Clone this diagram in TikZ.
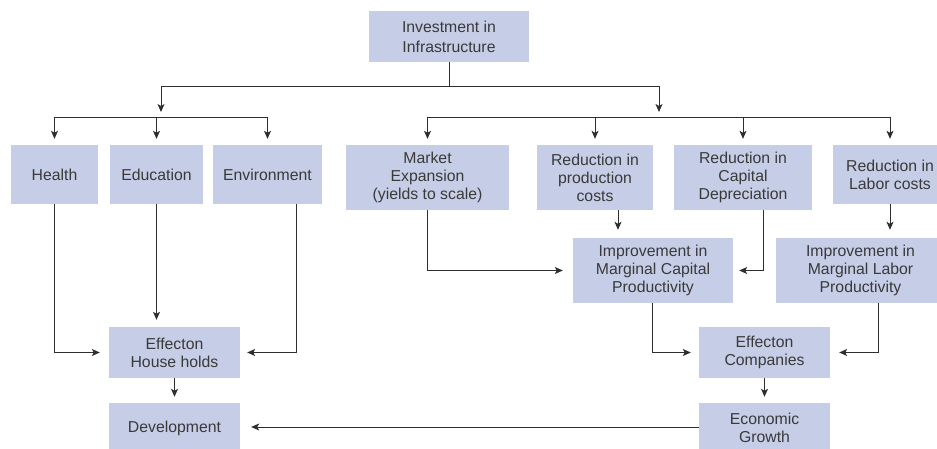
\documentclass[tikz,border=0pt]{standalone}
\usepackage{fontspec}
\setmainfont{Liberation Sans}
\usetikzlibrary{arrows.meta}
\definecolor{boxblue}{HTML}{C6CDE6}
\definecolor{txt}{HTML}{3A3A3A}
\definecolor{ln}{HTML}{2E2E2E}
\tikzset{
  bx/.style={fill=boxblue, inner sep=0pt, align=center, text=txt,
    font=\fontsize{15.8}{18}\selectfont},
  conn/.style={draw=ln, line width=0.9pt},
  arr/.style={conn, -{Stealth[length=8pt,width=7pt,inset=2pt]}},
}
\begin{document}
\begin{tikzpicture}[x=1pt,y=-1pt]
\useasboundingbox (0,0) rectangle (937,449);
\clip (0,0) rectangle (937,449);
% boxes
\node[bx, minimum width=160pt, minimum height=51pt, font=\fontsize{15.8}{20}\selectfont] (inv) at (449,36.5) {Investment in\\Infrastructure};
\node[bx, minimum width=87pt, minimum height=59pt] (health) at (54.5,174.5) {Health};
\node[bx, minimum width=93pt, minimum height=59pt] (edu) at (156.5,174.5) {Education};
\node[bx, minimum width=109pt, minimum height=59pt] (env) at (267.5,174.5) {Environment};
\node[bx, minimum width=163pt, minimum height=65pt] (mkt) at (427.5,177.5) {Market\\Expansion\\(yields to scale)};
\node[bx, minimum width=116pt, minimum height=65pt] (rprod) at (595,177.5) {Reduction in\\production\\costs};
\node[bx, minimum width=138pt, minimum height=65pt] (rcap) at (743,177.5) {Reduction in\\Capital\\Depreciation};
\node[bx, minimum width=114pt, minimum height=59pt] (rlab) at (890,174.5) {Reduction in\\Labor costs};
\node[bx, minimum width=160pt, minimum height=65pt] (impcap) at (653,270.5) {Improvement in\\Marginal Capital\\Productivity};
\node[bx, minimum width=169pt, minimum height=65pt] (implab) at (860.5,270.5) {Improvement in\\Marginal Labor\\Productivity};
\node[bx, minimum width=131pt, minimum height=51pt] (hh) at (174.5,352.5) {Effecton\\House holds};
\node[bx, minimum width=131pt, minimum height=51pt] (effco) at (764.5,352.5) {Effecton\\Companies};
\node[bx, minimum width=131pt, minimum height=50pt] (dev) at (174.5,428) {Development};
\node[bx, minimum width=131pt, minimum height=50pt] (econ) at (764.5,428) {Economic\\Growth};
% top tree
\coordinate (j1) at (449,86);
\coordinate (lbar) at (161,117);
\coordinate (rbar) at (659,117);
\draw[conn] (inv.south) -- (j1);
\draw[arr, shorten >=5pt] (j1) -| (lbar);
\draw[arr, shorten >=5pt] (j1) -| (rbar);
\draw[conn] (health.north |- lbar) -- (env.north |- lbar);
\draw[conn] (mkt.north |- rbar) -- (rlab.north |- rbar);
\foreach \n in {health,edu,env}
  \draw[arr, shorten >=6pt] (\n.north |- lbar) -- (\n.north);
\foreach \n in {mkt,rprod,rcap,rlab}
  \draw[arr, shorten >=6pt] (\n.north |- rbar) -- (\n.north);
% left bottom
\draw[arr, shorten >=9pt] (health.south) |- (hh.west);
\draw[arr, shorten >=7pt] (edu.south) -- (edu.south |- hh.north);
\draw[arr, shorten >=7pt] ([xshift=28.5pt]env.south) |- (hh.east);
\draw[arr, shorten >=6pt] (hh.south) -- (dev.north);
% right bottom
\draw[arr, shorten >=10pt] (mkt.south) |- (impcap.west);
\draw[arr, shorten >=8pt] ([xshift=23pt]rprod.south) -- ([xshift=23pt]rprod.south |- impcap.north);
\draw[arr, shorten >=6pt] ([xshift=20pt]rcap.south) |- (impcap.east);
\draw[arr, shorten >=8pt] (rlab.south) -- (rlab.south |- implab.north);
\draw[arr, shorten >=8pt] ([xshift=-1pt]impcap.south) |- (effco.west);
\draw[arr, shorten >=9pt] ([xshift=17.5pt]implab.south) |- (effco.east);
\draw[arr, shorten >=6pt] (effco.south) -- (econ.north);
\draw[arr, shorten >=11pt] ([yshift=1pt]econ.west) -- ([yshift=1pt]dev.east);
\end{tikzpicture}
\end{document}
